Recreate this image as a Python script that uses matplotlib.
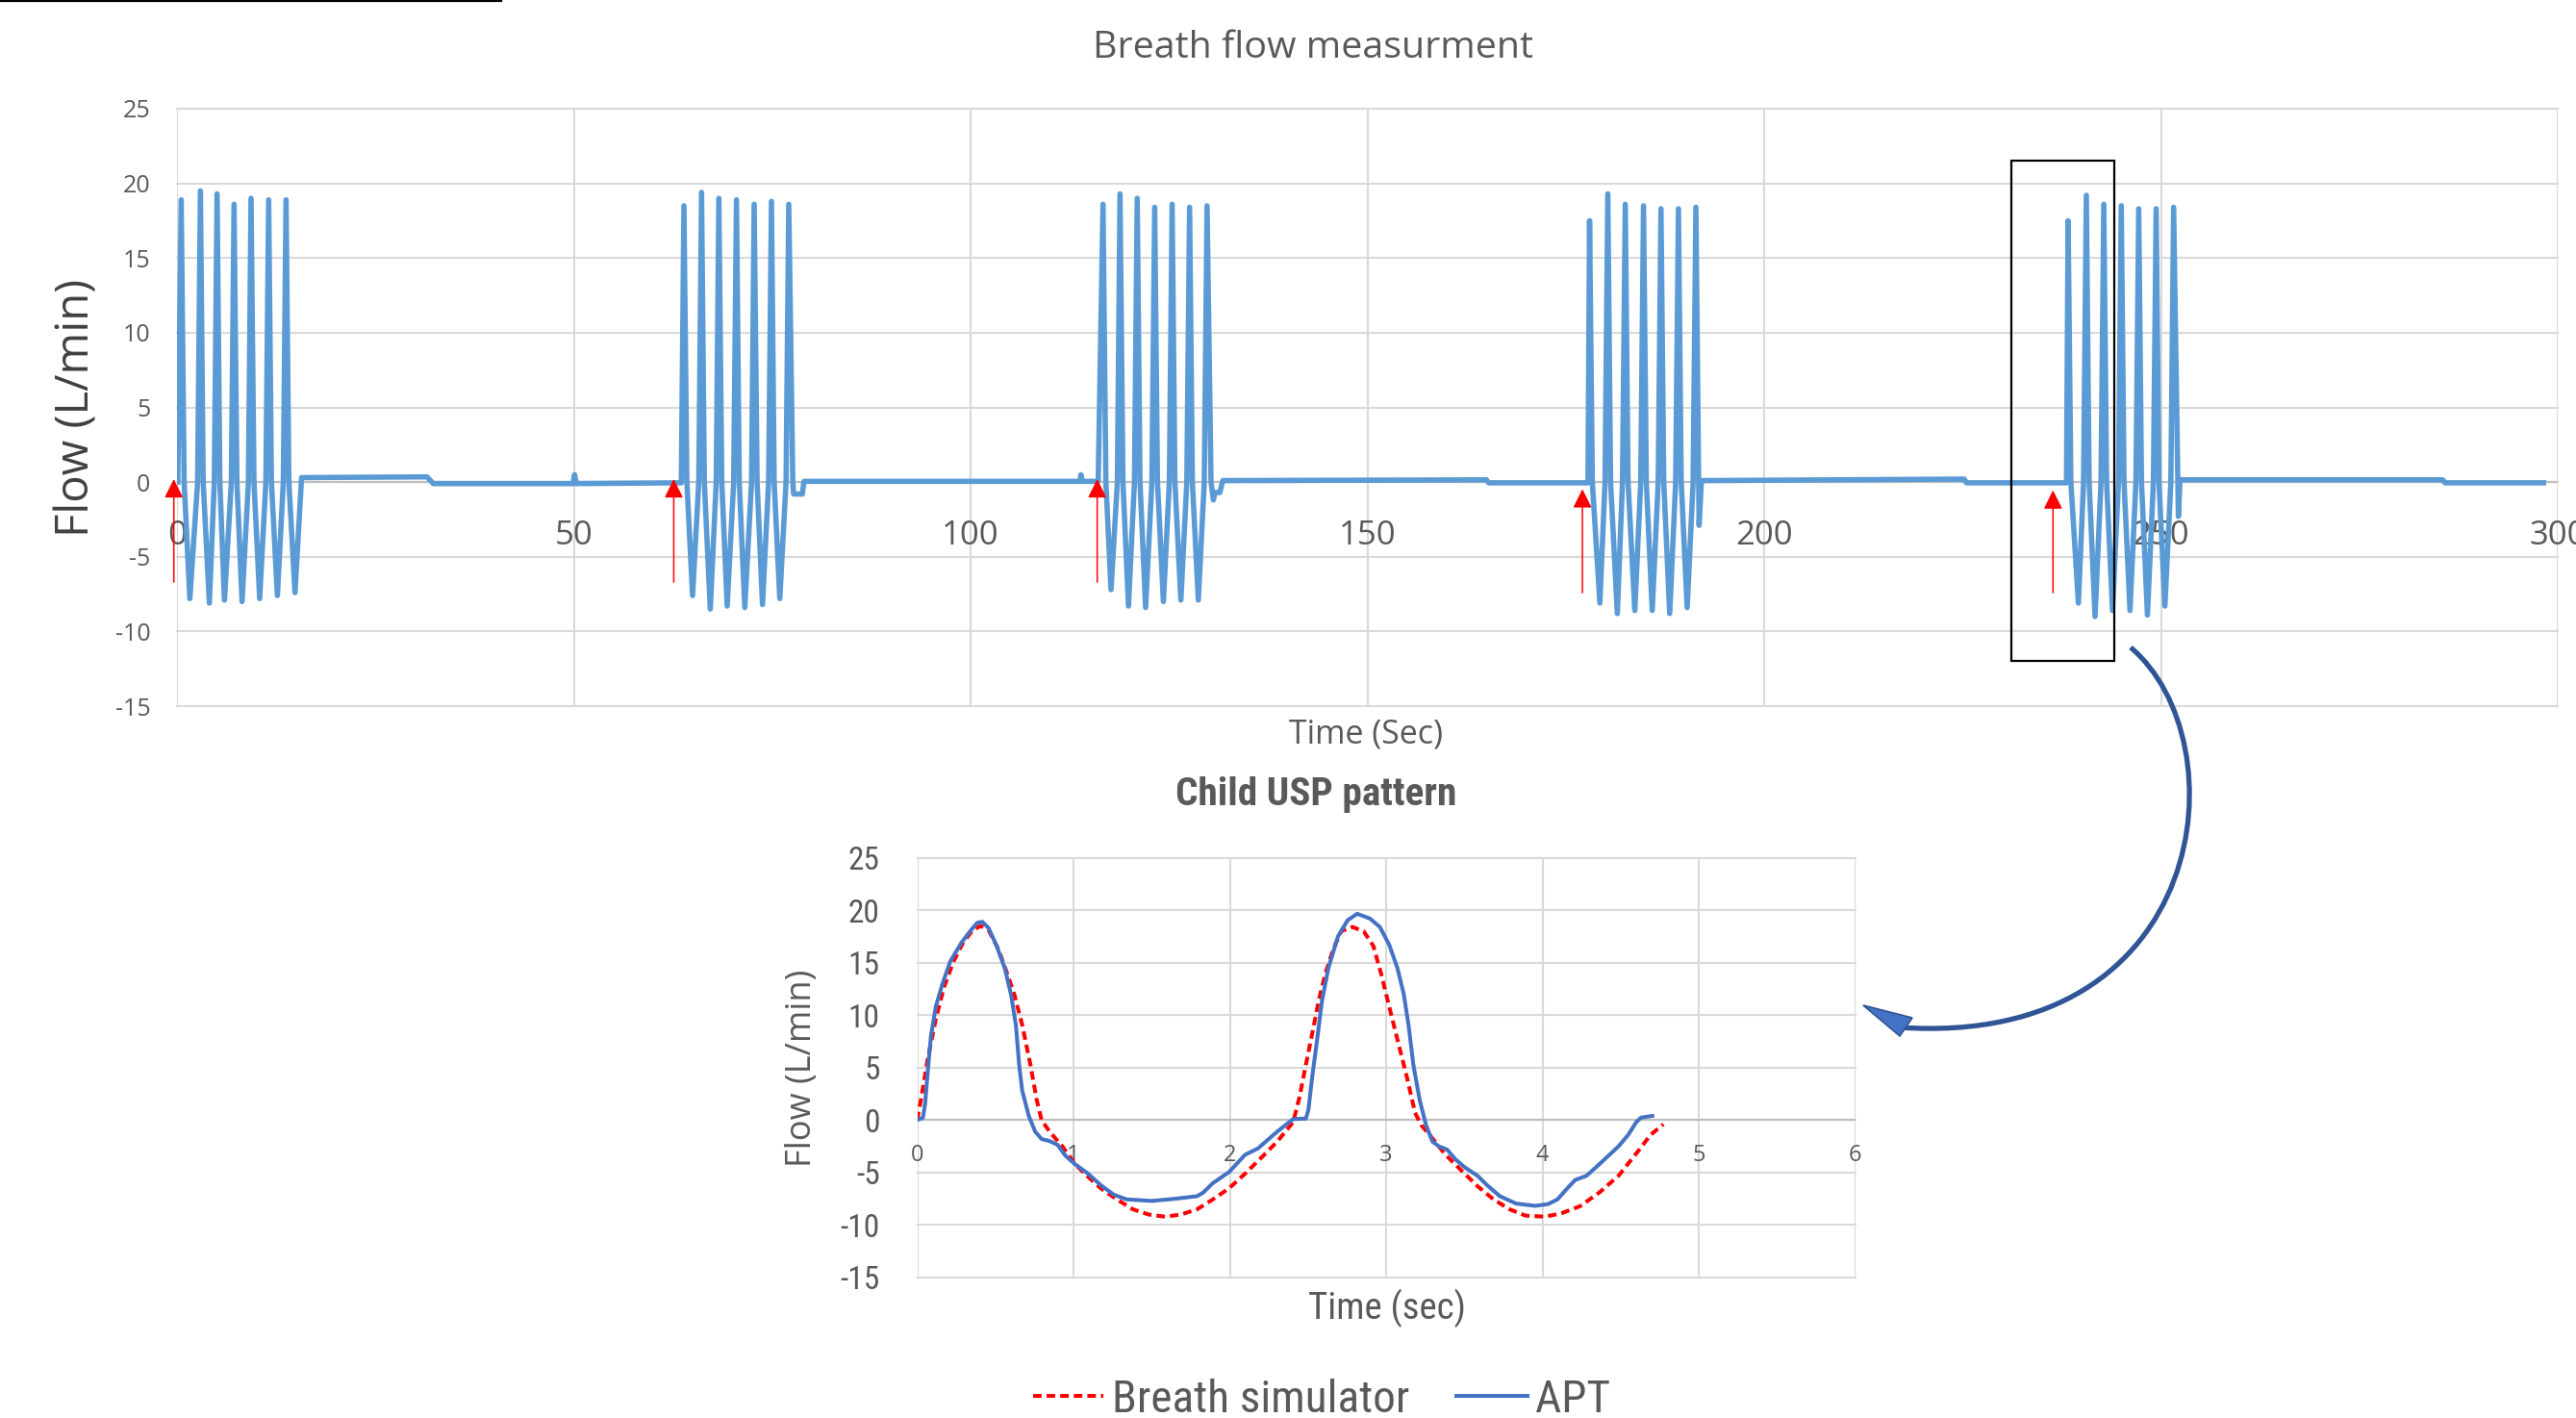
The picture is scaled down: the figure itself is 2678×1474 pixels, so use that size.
import matplotlib
matplotlib.use('Agg')
import matplotlib.pyplot as plt
from matplotlib import font_manager
from matplotlib.path import Path
from matplotlib.patches import PathPatch, Polygon, Rectangle
from matplotlib.lines import Line2D

plt.rcParams['axes.unicode_minus'] = False

# ---------------- data: main recording (Breath flow measurment) ----------------
peak_t = [0.53, 2.95, 5.05, 7.19, 9.33, 11.55, 13.74,
          63.88, 66.1, 68.28, 70.5, 72.73, 74.91, 77.09,
          116.69, 118.83, 121.0, 123.2, 125.4, 127.6, 129.8,
          178.0, 180.3, 182.5, 184.8, 187.0, 189.2, 191.4,
          238.3, 240.6, 242.8, 245.0, 247.2, 249.4, 251.6]
peak_v = [18.9, 19.5, 19.3, 18.6, 19.0, 18.9, 18.9,
          18.5, 19.4, 19.0, 18.9, 18.6, 18.8, 18.6,
          18.6, 19.3, 19.0, 18.4, 18.6, 18.4, 18.5,
          17.5, 19.3, 18.6, 18.5, 18.3, 18.3, 18.4,
          17.5, 19.2, 18.6, 18.5, 18.3, 18.3, 18.4]
trough_t = [1.62, 4.08, 5.98, 8.2, 10.42, 12.65, 14.87,
            64.97, 67.2, 69.33, 71.55, 73.78, 75.96,
            117.7, 119.9, 122.06, 124.3, 126.5, 128.7,
            179.3, 181.5, 183.7, 185.9, 188.1, 190.3,
            239.6, 241.7, 243.9, 246.1, 248.3, 250.5]
trough_v = [-7.8, -8.1, -7.9, -8.0, -7.8, -7.6, -7.4,
            -7.6, -8.5, -8.3, -8.4, -8.2, -7.8,
            -7.2, -8.3, -8.4, -8.0, -7.9, -7.9,
            -8.1, -8.8, -8.6, -8.6, -8.8, -8.4,
            -8.1, -9.0, -8.6, -8.6, -8.9, -8.3]
# zero crossings of the breaths (inspiration start / expiration start)
rise0_t = [2.6, 4.7, 6.85, 9.0, 11.2, 13.4,
           65.75, 67.95, 70.15, 72.4, 74.55, 76.75,
           118.5, 120.65, 122.85, 125.05, 127.25, 129.45,
           179.95, 182.15, 184.45, 186.65, 188.85, 191.05,
           240.25, 242.45, 244.65, 246.85, 249.05, 251.25]
fall0_t = [0.9, 3.3, 5.4, 7.55, 9.7, 11.9, 14.1,
           64.25, 66.45, 68.65, 70.85, 73.1, 75.25,
           117.05, 119.2, 121.35, 123.55, 125.75, 127.95,
           178.35, 180.65, 182.85, 185.15, 187.35, 189.55,
           238.65, 240.95, 243.15, 245.35, 247.55, 249.75]
base_t = [0.1, 15.7, 31.5, 32.3, 49.9, 50.1, 50.3, 63.55,
          77.6, 77.7, 78.8, 79.0, 113.8, 113.9, 114.1, 116.08,
          130.3, 130.6, 130.8, 131.4, 131.8, 165.0, 165.3, 177.8,
          191.8, 192.1, 225.2, 225.5, 238.1,
          252.2, 252.4, 285.5, 285.8, 298.2]
base_v = [0.0, 0.3, 0.35, -0.1, -0.1, 0.5, -0.1, -0.05,
          0.0, -0.8, -0.8, 0.05, 0.05, 0.5, 0.05, 0.05,
          0.0, -1.2, -0.7, -0.7, 0.1, 0.15, -0.05, -0.05,
          -2.9, 0.1, 0.2, -0.05, -0.05,
          -2.3, 0.15, 0.15, -0.05, -0.05]

main_xticks = [0, 50, 100, 150, 200, 250, 300]
main_yticks = [-15, -10, -5, 0, 5, 10, 15, 20, 25]

arrow_t = [-0.4, 62.6, 115.96, 177.1, 236.4]
arrow_tip = [0.2, 0.2, 0.2, -0.47, -0.55]
arrow_tail = [-6.7, -6.7, -6.7, -7.4, -7.4]

box_t = [231.1, 244.1]
box_v = [-11.96, 21.54]

# ---------------- data: inset (Child USP pattern) ----------------
sim_t = [0, 0.027, 0.068, 0.119, 0.17, 0.232, 0.293, 0.355, 0.406, 0.457, 0.519, 0.57,
         0.621, 0.673, 0.724, 0.765, 0.796, 0.847, 0.929, 1.01, 1.093, 1.175, 1.277, 1.38,
         1.482, 1.585, 1.687, 1.79, 1.892, 1.995, 2.098, 2.2, 2.303, 2.405, 2.446, 2.487,
         2.528, 2.569, 2.61, 2.662, 2.713, 2.784, 2.856, 2.918, 2.969, 3.02, 3.072, 3.133,
         3.185, 3.226, 3.297, 3.38, 3.482, 3.585, 3.687, 3.79, 3.892, 4.015, 4.118, 4.241,
         4.364, 4.487, 4.61, 4.692, 4.774]
sim_v = [0.0, 2.2, 5.9, 9.6, 12.6, 15.1, 16.9, 18.1, 18.5, 18.1, 16.3, 14.2,
         12.0, 9.0, 5.3, 1.9, 0.0, -1.1, -2.5, -4.2, -5.4, -6.5, -7.55, -8.5,
         -9.0, -9.2, -9.0, -8.5, -7.55, -6.5, -5.1, -3.6, -2.05, -0.2, 2.2, 5.3,
         8.3, 11.4, 13.9, 16.3, 18.0, 18.4, 18.0, 16.6, 13.9, 10.8, 7.7, 4.1,
         0.7, -0.5, -1.75, -3.3, -4.8, -6.3, -7.55, -8.5, -9.1, -9.2, -8.9, -8.2,
         -6.9, -5.3, -3.0, -1.4, -0.4]
apt_t = [0, 0.037, 0.051, 0.068, 0.088, 0.119, 0.16, 0.211, 0.283, 0.344, 0.385, 0.416,
         0.457, 0.508, 0.56, 0.6, 0.632, 0.652, 0.672, 0.714, 0.755, 0.796, 0.847, 0.898,
         0.949, 1.01, 1.093, 1.175, 1.257, 1.339, 1.503, 1.646, 1.79, 1.83, 1.892, 1.995,
         2.098, 2.18, 2.303, 2.405, 2.487, 2.503, 2.527, 2.559, 2.59, 2.631, 2.692, 2.754,
         2.815, 2.897, 2.96, 3.02, 3.072, 3.113, 3.144, 3.174, 3.215, 3.256, 3.297, 3.338,
         3.39, 3.441, 3.503, 3.585, 3.646, 3.728, 3.831, 3.954, 4.036, 4.097, 4.159, 4.21,
         4.282, 4.364, 4.487, 4.549, 4.6, 4.631, 4.703]
apt_v = [0.0, 0.24, 1.6, 4.7, 8.0, 10.8, 12.9, 15.1, 16.9, 18.1, 18.8, 18.9,
         18.3, 16.6, 14.5, 12.0, 9.0, 5.3, 2.8, 0.4, -1.1, -1.8, -2.0, -2.35,
         -3.4, -4.2, -5.1, -6.2, -7.1, -7.55, -7.7, -7.5, -7.25, -6.9, -6.0, -4.95,
         -3.3, -2.7, -1.1, 0.1, 0.15, 1.0, 4.1, 7.7, 11.4, 14.5, 17.5, 19.05,
         19.66, 19.2, 18.4, 16.7, 14.5, 12.0, 9.0, 5.3, 1.9, -0.5, -2.05, -2.5,
         -2.8, -3.7, -4.5, -5.3, -6.2, -7.25, -7.95, -8.17, -8.0, -7.55, -6.5, -5.7,
         -5.3, -4.2, -2.5, -1.4, -0.2, 0.24, 0.4]
inset_xticks = [0, 1, 2, 3, 4, 5, 6]
inset_yticks = [-15, -10, -5, 0, 5, 10, 15, 20, 25]
legend_labels = ['Breath simulator', 'APT']

# ---------------- layout helpers ----------------
W, H = 2678, 1474
DPI = 200
fig = plt.figure(figsize=(W / DPI, H / DPI), dpi=DPI)
fig.patch.set_facecolor('white')

def fx(px):
    return px / W

def fy(py):
    return 1 - py / H

names = {f.name for f in font_manager.fontManager.ttflist}
MAIN_FONT = 'Open Sans' if 'Open Sans' in names else 'DejaVu Sans'
NARROW = next((n for n in ['Liberation Sans Narrow', 'Roboto Condensed']
               if n in names), 'Liberation Sans')
GRID = '#D9D9D9'
AXIS = '#BFBFBF'
TXT = '#595959'

# ---------------- main chart ----------------
ax = fig.add_axes([fx(184), fy(734), fx(2659) - fx(184), fy(113) - fy(734)])
pts = sorted(list(zip(peak_t, peak_v)) + list(zip(trough_t, trough_v)) +
             [(t, 0.0) for t in rise0_t] + [(t, 0.0) for t in fall0_t] +
             list(zip(base_t, base_v)))
ax.plot([p[0] for p in pts], [p[1] for p in pts], color='#5B9BD5', lw=2.0,
        solid_joinstyle='round', zorder=3)
ax.set_xlim(0, 300)
ax.set_ylim(-15, 25)
ax.set_xticks(main_xticks)
ax.set_yticks(main_yticks)
ax.grid(True, color=GRID, lw=0.75)
for gl in ax.get_xgridlines() + ax.get_ygridlines():
    gl.set_clip_on(False)
ax.axhline(0, color=AXIS, lw=0.8, zorder=2)
for s in ax.spines.values():
    s.set_visible(False)
ax.spines['bottom'].set_position(('data', 0))
ax.tick_params(axis='both', length=0)
ax.tick_params(axis='x', pad=14, labelsize=12.5, labelcolor=TXT)
ax.tick_params(axis='y', pad=10, labelsize=9, labelcolor=TXT)
for lab in ax.get_xticklabels() + ax.get_yticklabels():
    lab.set_fontfamily(MAIN_FONT)
for lab in ax.get_xticklabels():
    lab.set_clip_on(False)

for t, tip, tail in zip(arrow_t, arrow_tip, arrow_tail):
    ax.annotate('', xy=(t, tip), xytext=(t, tail), annotation_clip=False,
                arrowprops=dict(arrowstyle='-|>', color='red', lw=0.55,
                                mutation_scale=15, shrinkA=0, shrinkB=0))
ax.add_patch(Rectangle((box_t[0], box_v[0]), box_t[1] - box_t[0], box_v[1] - box_v[0],
                       fill=False, edgecolor='black', lw=0.8, clip_on=False, zorder=5))

fig.text(fx(1365), fy(50), 'Breath flow measurment', ha='center', va='center',
         fontsize=14.2, color=TXT, family=MAIN_FONT)
fig.text(fx(80), fy(424), 'Flow (L/min)', ha='center', va='center', rotation=90,
         fontsize=17, color='#404040', family=MAIN_FONT)
fig.text(fx(1420), fy(764), 'Time (Sec)', ha='center', va='center',
         fontsize=12.2, color=TXT, family=MAIN_FONT)

# ---------------- inset chart ----------------
ax2 = fig.add_axes([fx(953.5), fy(1328), fx(1928.5) - fx(953.5), fy(891.6) - fy(1328)])
ax2.plot(sim_t, sim_v, color='#FF0000', lw=1.45, dashes=(2.2, 1.3), zorder=3,
         label=legend_labels[0])
ax2.plot(apt_t, apt_v, color='#4472C4', lw=1.45, solid_joinstyle='round', zorder=4,
         label=legend_labels[1])
ax2.set_xlim(0, 6)
ax2.set_ylim(-15, 25)
ax2.set_xticks(inset_xticks)
ax2.set_yticks(inset_yticks)
ax2.grid(True, color=GRID, lw=0.75)
for gl in ax2.get_xgridlines() + ax2.get_ygridlines():
    gl.set_clip_on(False)
ax2.axhline(0, color=AXIS, lw=0.8, zorder=2)
for s in ax2.spines.values():
    s.set_visible(False)
ax2.spines['bottom'].set_position(('data', 0))
ax2.tick_params(axis='both', length=0)
ax2.tick_params(axis='x', pad=9, labelsize=8.5, labelcolor=TXT)
ax2.tick_params(axis='y', pad=14, labelsize=12, labelcolor=TXT)
for lab in ax2.get_xticklabels():
    lab.set_fontfamily(MAIN_FONT)
for lab in ax2.get_yticklabels():
    lab.set_fontfamily(NARROW)

fig.text(fx(1368), fy(826), 'Child USP pattern', ha='center', va='center',
         fontsize=14.8, color=TXT, family=NARROW, fontweight='bold')
fig.text(fx(834), fy(1110), 'Flow (L/min)', ha='center', va='center', rotation=90,
         fontsize=13, color=TXT, family=MAIN_FONT)
fig.text(fx(1442), fy(1360), 'Time (sec)', ha='center', va='center',
         fontsize=14, color=TXT, family=NARROW)

h1, l1 = ax2.get_legend_handles_labels()
fig.legend(h1, l1, loc='center', bbox_to_anchor=(fx(1374), fy(1455)), ncol=2,
           frameon=False, prop={'family': NARROW, 'size': 17}, labelcolor=TXT,
           handlelength=1.55, handletextpad=0.17, columnspacing=1.05,
           borderaxespad=0, borderpad=0)

# ---------------- decorations ----------------
fig.add_artist(Line2D([0, fx(521)], [fy(1), fy(1)], color='black', lw=0.8,
                      transform=fig.transFigure))
curve = Path([(fx(2215), fy(673)), (fx(2330), fy(770)), (fx(2300), fy(1090)),
              (fx(1975), fy(1068))],
             [Path.MOVETO, Path.CURVE4, Path.CURVE4, Path.CURVE4])
fig.add_artist(PathPatch(curve, transform=fig.transFigure, fill=False,
                         edgecolor='#2F5597', lw=1.9, capstyle='butt'))
fig.add_artist(Polygon([(fx(1937), fy(1045)), (fx(1988), fy(1058)), (fx(1975), fy(1077))],
                       closed=True, transform=fig.transFigure, facecolor='#4472C4',
                       edgecolor='#2F5597', lw=0.6))

fig.savefig('out.png', dpi=DPI, facecolor='white')
